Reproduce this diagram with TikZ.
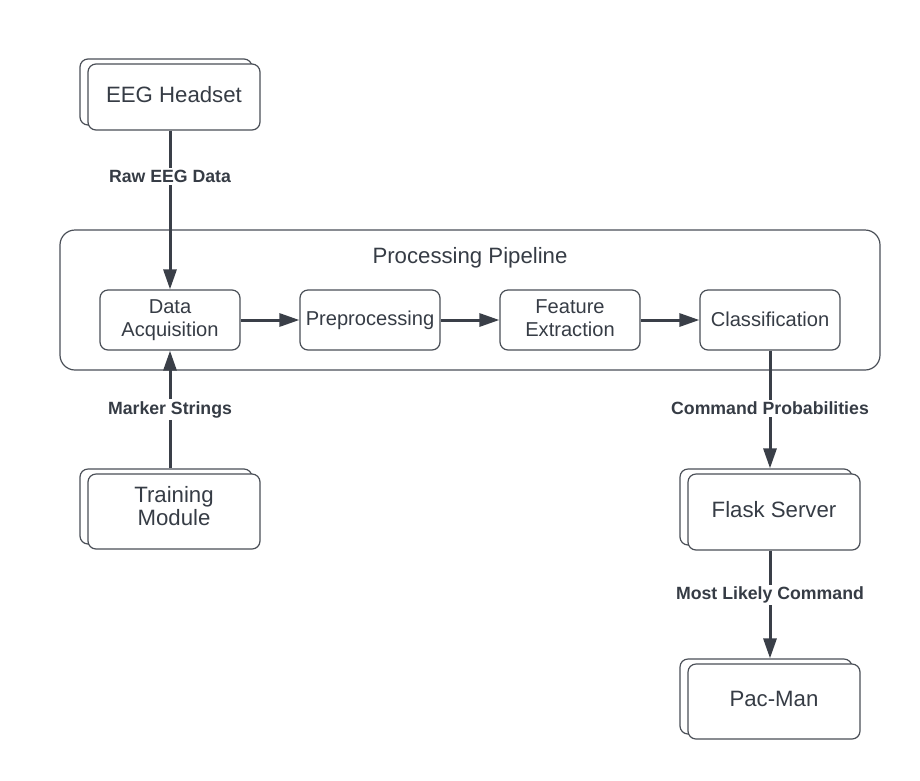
\documentclass[tikz,border=0pt]{standalone}
\usepackage{fontspec}
\setmainfont{Liberation Sans}
\usetikzlibrary{arrows.meta,shadows,calc}
\definecolor{boxline}{HTML}{4A4F57}
\definecolor{arrowc}{HTML}{3A3F48}
\definecolor{txt}{HTML}{363C45}
\tikzset{
  outerbox/.style={draw=boxline, line width=1.2pt, fill=white, rounded corners=8pt,
    minimum width=172pt, align=center, text=txt, font=\fontsize{22.2}{24}\selectfont,
    copy shadow={shadow xshift=-8pt, shadow yshift=5pt, draw=boxline, fill=white, line width=1.2pt, opacity=1}},
  outertext/.style={align=center, text=txt, font=\fontsize{22.2}{23.5}\selectfont},
  stagebox/.style={draw=boxline, line width=1.2pt, fill=white, rounded corners=8pt,
    minimum width=140pt, minimum height=60pt, align=center, text=txt,
    font=\fontsize{20.1}{23.2}\selectfont},
  flow/.style={draw=arrowc, line width=3pt, -{Triangle[length=20pt,width=13pt]}},
  flowlabel/.style={fill=white, text=txt, inner sep=2pt, font=\fontsize{17.7}{20}\selectfont\bfseries},
}
\begin{document}
\begin{tikzpicture}[x=1pt,y=-1pt]
\useasboundingbox (0,0) rectangle (920,780);
% container
\node[draw=boxline, line width=1.2pt, rounded corners=15pt, minimum width=820pt, minimum height=140pt] (pipe) at (470,300) {};
\node[text=txt, font=\fontsize{22.2}{26}\selectfont] (title) at (470,258) {Processing Pipeline};
% stages
\node[stagebox] (daq) at (170,320) {Data\\Acquisition};
\node[stagebox] (pre) at (370,320) {\raisebox{1.5pt}{Preprocessing}};
\node[stagebox] (feat) at (570,320) {Feature\\Extraction\vphantom{q}};
\node[stagebox] (cls) at (770,320) {\raisebox{2pt}{Classification}};
% outer modules
\node[outerbox, minimum height=66pt] (eeg) at (174,97) {\raisebox{5pt}{EEG Headset}};
\node[outerbox, minimum height=75pt, label={[outertext, yshift=5.5pt]center:Training\\Module}] (train) at (174,511.5) {};
\node[outerbox, minimum height=76pt] (flask) at (774,512) {\raisebox{5.5pt}{Flask Server}};
\node[outerbox, minimum height=75pt] (pac) at (774,701.5) {\raisebox{5pt}{Pac-Man}};
% connectors
\draw[flow] (daq.north |- eeg.south) -- node[flowlabel, pos=0.29] (lraw) {Raw EEG Data} (daq.north);
\draw[flow] ([yshift=5pt]daq.south |- train.north) -- node[flowlabel, pos=0.5] (lmark) {Marker Strings} (daq.south);
\draw[flow] (daq) -- (pre);
\draw[flow] (pre) -- (feat);
\draw[flow] (feat) -- (cls);
\draw[flow] (cls.south) -- node[flowlabel, pos=0.49] (lcmd) {Command Probabilities} ([yshift=5pt]cls.south |- flask.north);
\draw[flow] (cls.south |- flask.south) -- node[flowlabel, pos=0.41] (lmost) {Most Likely Command} ([yshift=5pt]cls.south |- pac.north);
\end{tikzpicture}
\end{document}
